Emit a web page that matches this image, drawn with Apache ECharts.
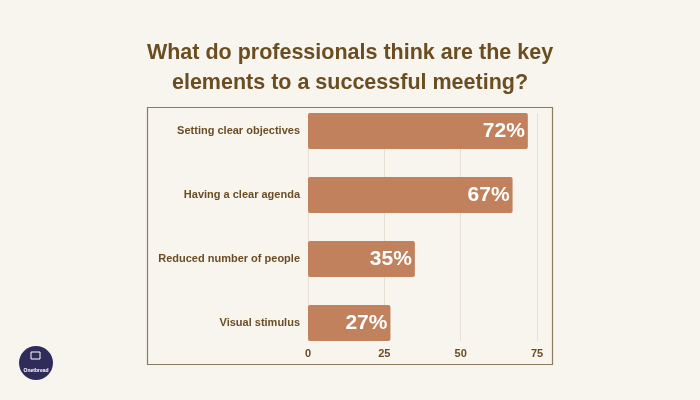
<!DOCTYPE html>
<html>
<head>
<meta charset="utf-8">
<style>html,body{margin:0;padding:0;background:#f8f5ef;}#c{width:700px;height:400px;}</style>
<script src="https://cdn.jsdelivr.net/npm/echarts@6/dist/echarts.min.js"></script>
</head>
<body>
<div id="c"></div>
<script>
var categories = ['Setting clear objectives', 'Having a clear agenda', 'Reduced number of people', 'Visual stimulus'];
var values = [72, 67, 35, 27];
var xTicks = [0, 25, 50, 75];
var titleText = 'What do professionals think are the key\nelements to a successful meeting?';

var chart = echarts.init(document.getElementById('c'), null, {renderer: 'canvas'});
chart.setOption({
  backgroundColor: '#f8f5ef',
  animation: false,
  title: {
    text: titleText,
    left: 'center',
    top: 33,
    textStyle: {fontFamily: 'Liberation Sans', fontWeight: 'bold', fontSize: 21.5, lineHeight: 30, color: '#6b4d22'}
  },
  graphic: [
    {type: 'rect', shape: {x: 147.5, y: 107.5, width: 405, height: 257}, style: {fill: 'none', stroke: '#8c7a5c', lineWidth: 1.2}, z: 0},
    {type: 'circle', shape: {cx: 36, cy: 363, r: 17}, style: {fill: '#2f2c5a'}},
    {type: 'rect', shape: {x: 31, y: 352, width: 9, height: 7}, style: {fill: 'none', stroke: '#ffffff', lineWidth: 1}},
    {type: 'text', style: {text: 'Onetbread', x: 36, y: 371, align: 'center', verticalAlign: 'middle', fill: '#ffffff', font: 'bold 5px Liberation Sans'}}
  ],
  grid: [
    {left: 308, right: 163, top: 99, bottom: 45, containLabel: false},
    {left: 308, right: 163, top: 113, bottom: 59, containLabel: false}
  ],
  xAxis: [{
    gridIndex: 0, type: 'value', min: 0, max: 75, interval: 25,
    axisLine: {show: false}, axisTick: {show: false},
    axisLabel: {margin: -7, color: '#6b4d22', fontFamily: 'Liberation Sans', fontWeight: 'bold', fontSize: 11,
      formatter: function (v) { return xTicks.indexOf(v) >= 0 ? String(v) : ''; }},
    splitLine: {show: false}
  }, {
    gridIndex: 1, type: 'value', min: 0, max: 75, interval: 25,
    axisLine: {show: false}, axisTick: {show: false}, axisLabel: {show: false},
    splitLine: {show: true, lineStyle: {color: '#e6dfd3', width: 1}}
  }],
  yAxis: [{
    gridIndex: 0, type: 'category', data: categories, inverse: true,
    axisLine: {show: false}, axisTick: {show: false},
    axisLabel: {margin: 8, color: '#6b4d22', fontFamily: 'Liberation Sans', fontWeight: 'bold', fontSize: 11}
  }, {
    gridIndex: 1, type: 'category', data: categories, inverse: true, show: false
  }],
  series: [{
    type: 'bar', xAxisIndex: 0, yAxisIndex: 0, data: values, barWidth: 36, z: 3,
    itemStyle: {color: '#c0815c', borderRadius: 2},
    label: {show: true, position: 'insideRight', offset: [2, 0], formatter: '{c}%', color: '#ffffff',
      fontFamily: 'Liberation Sans', fontWeight: 'bold', fontSize: 21}
  }]
});
</script>
</body>
</html>
